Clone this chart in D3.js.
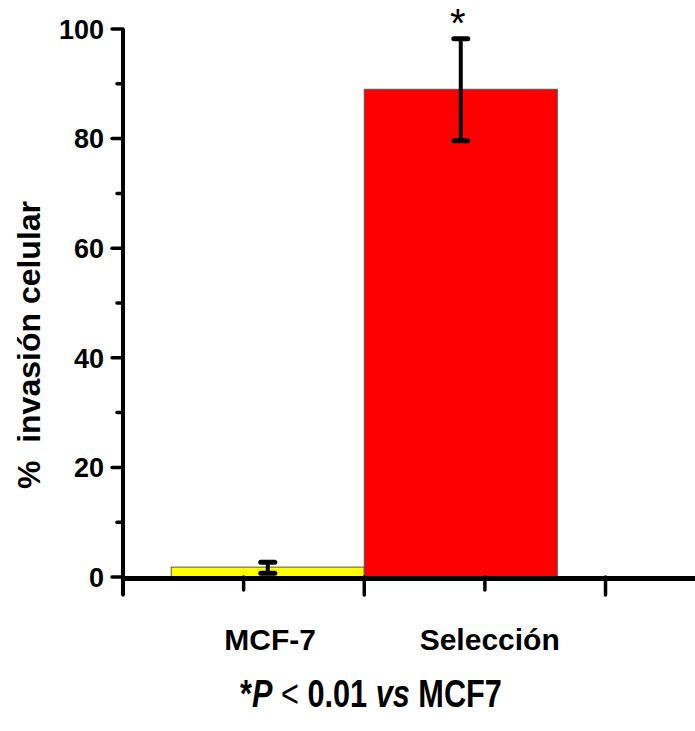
<!DOCTYPE html>
<html>
<head>
<meta charset="utf-8">
<script src="https://cdn.jsdelivr.net/npm/d3@7.9.0/dist/d3.min.js"></script>
<style>
  body { margin: 0; background: #fff; }
  svg { display: block; font-family: "Liberation Sans", Arial, sans-serif; }
</style>
</head>
<body>
<svg id="chart" width="695" height="731"></svg>
<script>
// data
const categories = ['MCF-7', 'Selección'];
const values = [1.8, 89];
const errLow = [0.7, 79.6];
const errHigh = [2.7, 98.2];
const barColors = ['#ffff00', '#ff0000'];
const yTicks = [0, 20, 40, 60, 80, 100];
const yMinor = [10, 30, 50, 70, 90];
const xMajor = [0, 2, 4];
const xMinor = [1, 3];
const barCenters = [1.2, 2.8];   // in x-axis units
const labelCenters = [1.22, 3.04];
const barWidth = 1.6;

const svg = d3.select('#chart');

const x = d3.scaleLinear().domain([0, 4.75]).range([123, 696]);
const y = d3.scaleLinear().domain([0, 100]).range([577, 29]);

// bars
svg.selectAll('rect.bar')
  .data(values)
  .join('rect')
  .attr('class', 'bar')
  .attr('x', (d, i) => x(barCenters[i] - barWidth / 2))
  .attr('width', (d, i) => x(barCenters[i] + barWidth / 2) - x(barCenters[i] - barWidth / 2))
  .attr('y', d => y(d))
  .attr('height', d => y(0) - y(d))
  .attr('fill', (d, i) => barColors[i])
  .attr('stroke', '#555')
  .attr('stroke-width', 1);

// error bars
const eb = svg.selectAll('g.err')
  .data(values)
  .join('g')
  .attr('class', 'err')
  .attr('stroke', '#000')
  .attr('stroke-linecap', 'round');

eb.append('line')
  .attr('x1', (d, i) => x(barCenters[i])).attr('x2', (d, i) => x(barCenters[i]))
  .attr('y1', (d, i) => y(errLow[i])).attr('y2', (d, i) => y(errHigh[i]))
  .attr('stroke-width', 4);
eb.append('line')
  .attr('x1', (d, i) => x(barCenters[i]) - 7).attr('x2', (d, i) => x(barCenters[i]) + 7)
  .attr('y1', (d, i) => y(errHigh[i])).attr('y2', (d, i) => y(errHigh[i]))
  .attr('stroke-width', 5);
eb.append('line')
  .attr('x1', (d, i) => x(barCenters[i]) - 7).attr('x2', (d, i) => x(barCenters[i]) + 7)
  .attr('y1', (d, i) => y(errLow[i])).attr('y2', (d, i) => y(errLow[i]))
  .attr('stroke-width', 5);

// significance star
svg.append('text')
  .attr('x', x(barCenters[1]) - 3)
  .attr('y', y(errHigh[1]) - 2)
  .attr('text-anchor', 'middle')
  .attr('font-size', 40)
  .text('*');

// y axis
const yAxis = svg.append('g').attr('stroke', '#000').attr('stroke-linecap', 'round');
yAxis.append('line')
  .attr('x1', x(0)).attr('x2', x(0))
  .attr('y1', y(100)).attr('y2', y(0) + 18)
  .attr('stroke-width', 4)
  .attr('stroke-linecap', 'butt');
yAxis.selectAll('line.maj')
  .data(yTicks)
  .join('line')
  .attr('class', 'maj')
  .attr('x1', x(0) - 11).attr('x2', x(0))
  .attr('y1', d => y(d)).attr('y2', d => y(d))
  .attr('stroke-width', 3.5);
yAxis.selectAll('line.min')
  .data(yMinor)
  .join('line')
  .attr('class', 'min')
  .attr('x1', x(0) - 6).attr('x2', x(0))
  .attr('y1', d => y(d)).attr('y2', d => y(d))
  .attr('stroke-width', 3.5);

svg.append('g')
  .selectAll('text')
  .data(yTicks)
  .join('text')
  .attr('x', 104)
  .attr('y', d => y(d))
  .attr('dy', '0.36em')
  .attr('text-anchor', 'end')
  .attr('font-size', 27)
  .attr('font-weight', 'bold')
  .text(d => d);

// x axis
const xAxis = svg.append('g').attr('stroke', '#000').attr('stroke-linecap', 'round');
xAxis.append('line')
  .attr('x1', x(0)).attr('x2', 695)
  .attr('y1', y(0) + 1.5).attr('y2', y(0) + 1.5)
  .attr('stroke-width', 5)
  .attr('stroke-linecap', 'butt');
xAxis.selectAll('line.maj')
  .data(xMajor)
  .join('line')
  .attr('class', 'maj')
  .attr('x1', d => x(d)).attr('x2', d => x(d))
  .attr('y1', y(0)).attr('y2', y(0) + 18)
  .attr('stroke-width', 3.5);
xAxis.selectAll('line.min')
  .data(xMinor)
  .join('line')
  .attr('class', 'min')
  .attr('x1', d => x(d)).attr('x2', d => x(d))
  .attr('y1', y(0)).attr('y2', y(0) + 13)
  .attr('stroke-width', 3.5);

// category labels
svg.append('g')
  .selectAll('text')
  .data(categories)
  .join('text')
  .attr('x', (d, i) => x(labelCenters[i]))
  .attr('y', 650)
  .attr('text-anchor', 'middle')
  .attr('font-size', 30)
  .attr('font-weight', 'bold')
  .text(d => d);

// y title
svg.append('text')
  .attr('transform', 'translate(40,345) rotate(-90)')
  .attr('text-anchor', 'middle')
  .attr('font-size', 32)
  .attr('font-weight', 'bold')
  .attr('xml:space', 'preserve')
  .text('%  invasión celular');

// footnote, condensed to the width it has in the figure
const note = svg.append('text')
  .attr('font-size', 38)
  .attr('font-weight', 'bold');
note.append('tspan').text('*');
note.append('tspan').attr('font-style', 'italic').text('P');
note.append('tspan').attr('font-weight', 'normal').text(' < ');
note.append('tspan').text('0.01 ');
note.append('tspan').attr('font-style', 'italic').text('vs');
note.append('tspan').text(' MCF7');
const noteLen = note.node().getComputedTextLength();
note.attr('transform', `translate(240,707) scale(${262 / noteLen},1)`);
</script>
</body>
</html>
